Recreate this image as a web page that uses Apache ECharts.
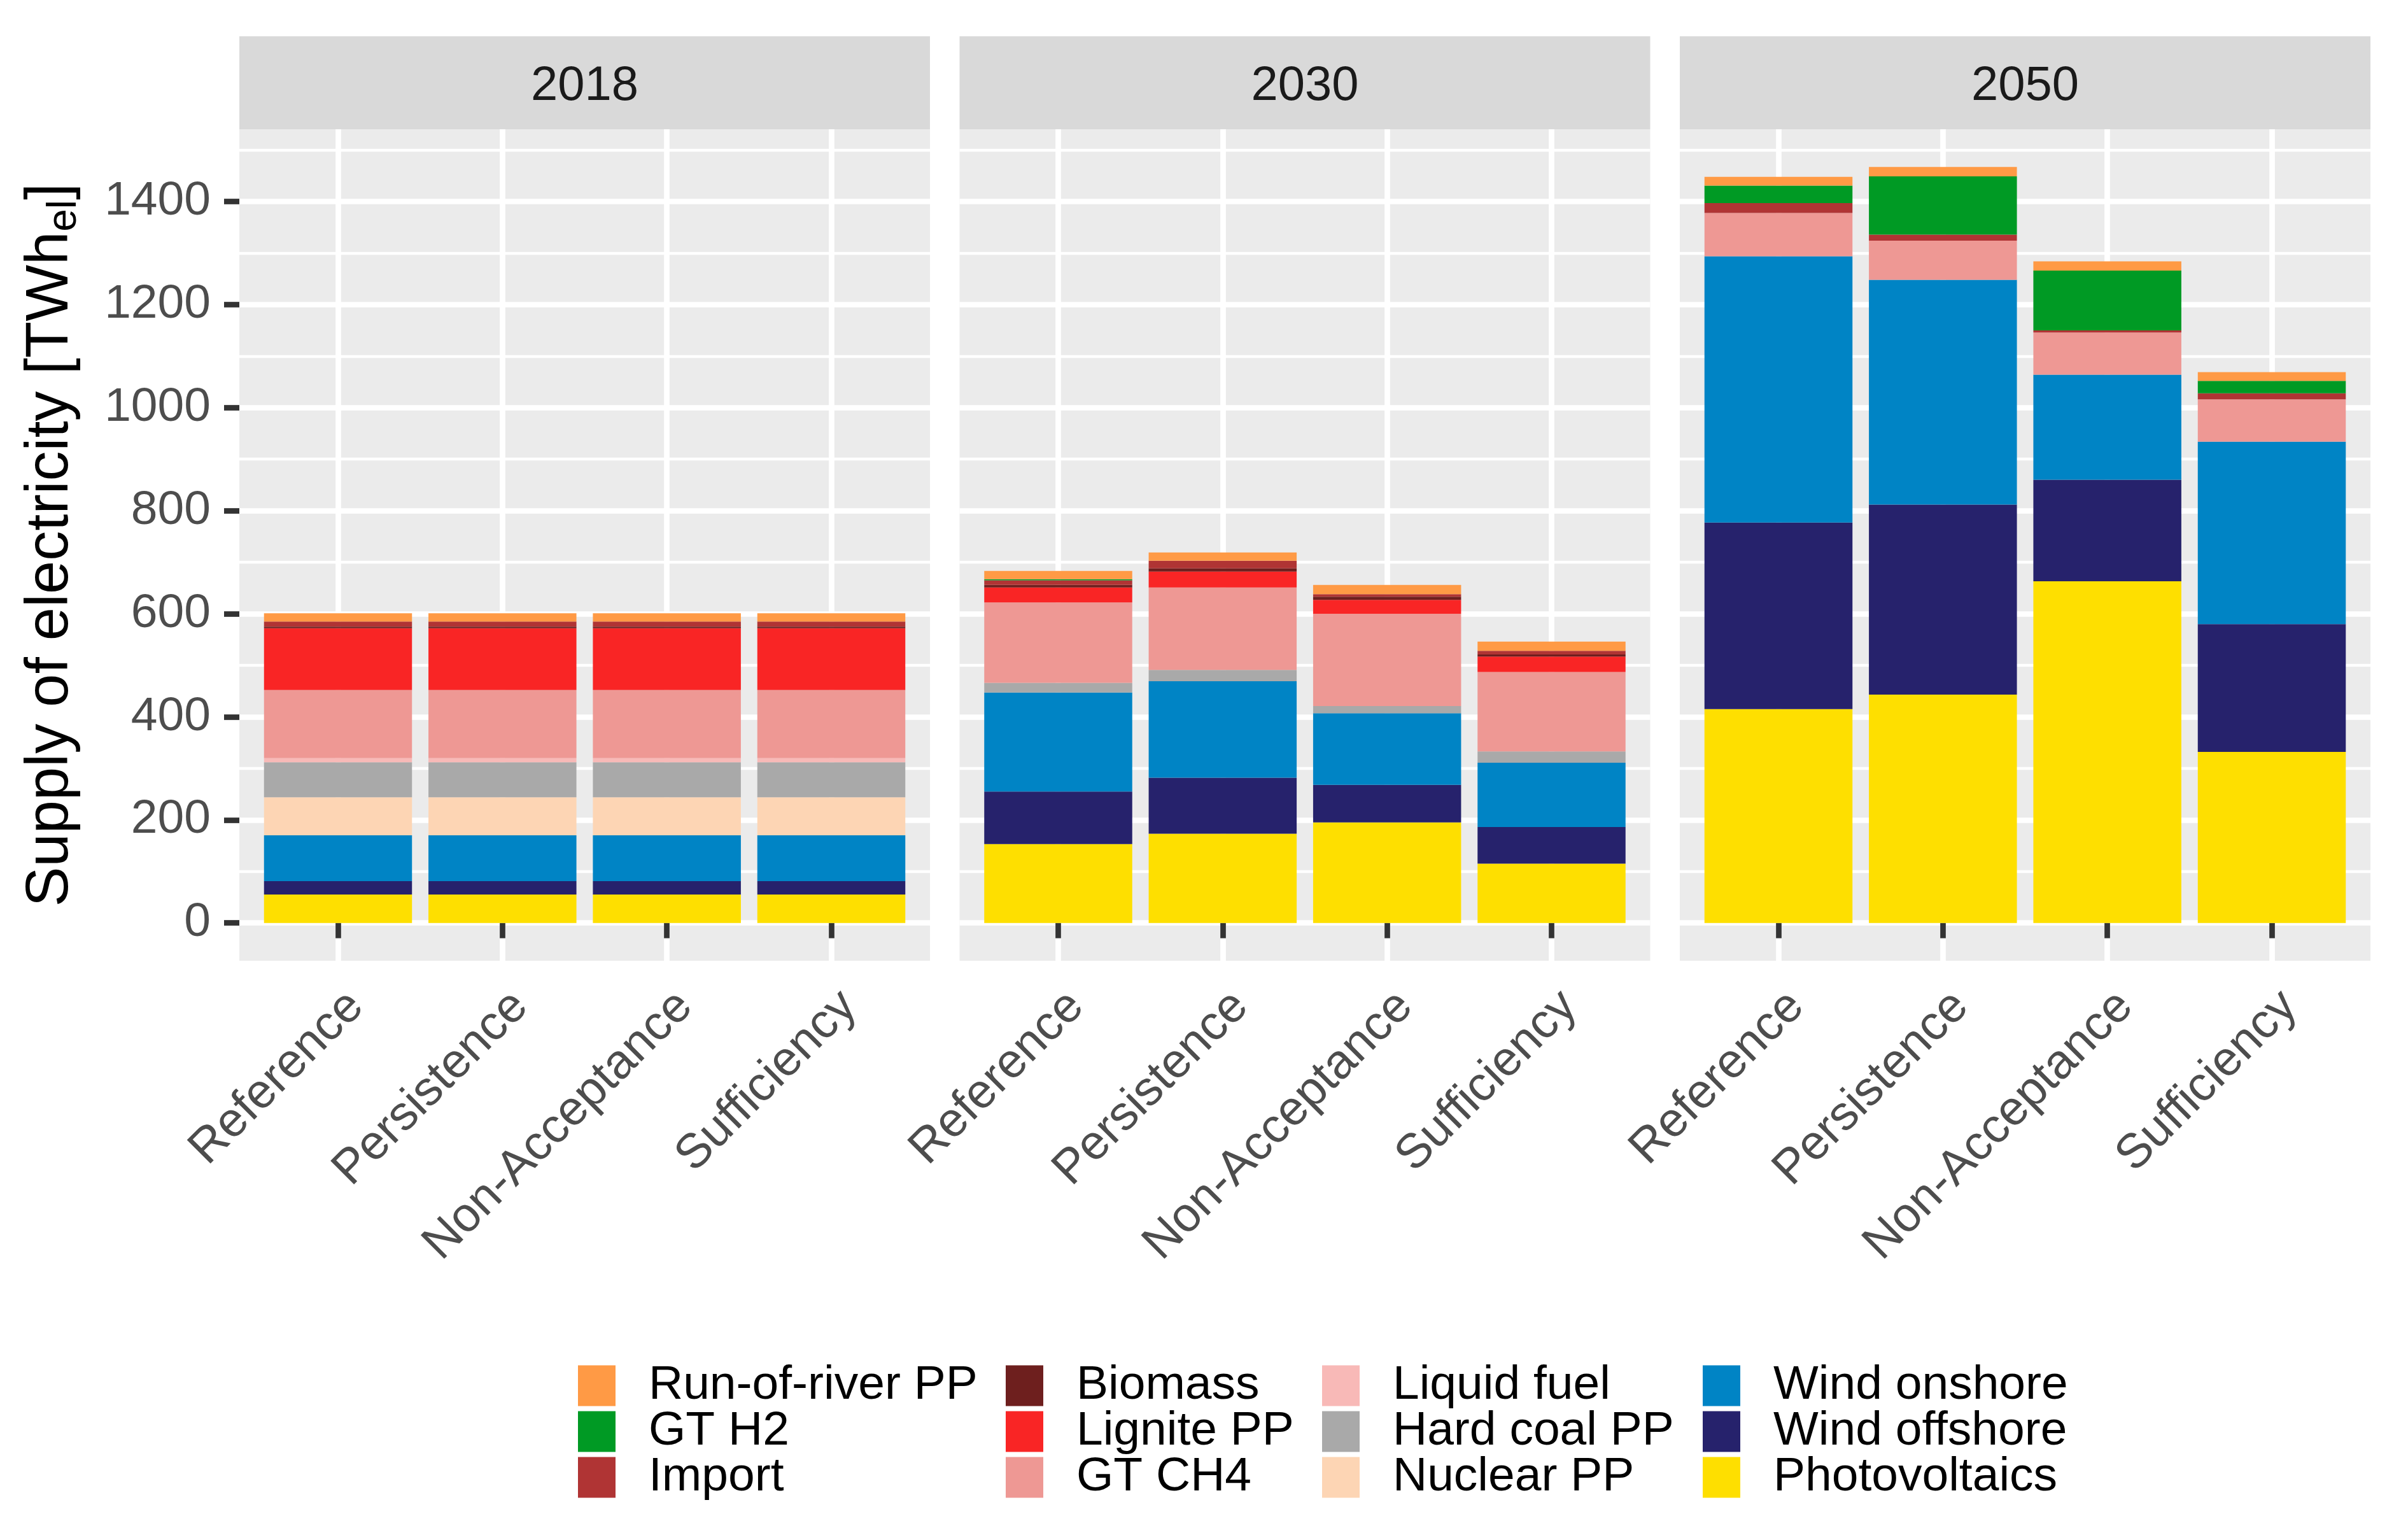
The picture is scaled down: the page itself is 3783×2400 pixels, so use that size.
<!DOCTYPE html>
<html><head><meta charset="utf-8">
<script src="https://cdn.jsdelivr.net/npm/echarts@6/dist/echarts.min.js"></script>
<style>html,body{margin:0;padding:0;background:#fff}#c{width:3783px;height:2400px}</style>
</head><body><div id="c"></div>
<script>
// ---------- data ----------
const years = ['2018', '2030', '2050'];
const scenarios = ['Reference', 'Persistence', 'Non-Acceptance', 'Sufficiency'];
// stacking order, bottom to top
const technologies = ['Photovoltaics', 'Wind offshore', 'Wind onshore', 'Nuclear PP', 'Hard coal PP',
  'Liquid fuel', 'GT CH4', 'Lignite PP', 'Biomass', 'Import', 'GT H2', 'Run-of-river PP'];
const techColors = ['#FEDF00', '#26226C', '#0084C5', '#FDD5B4', '#A9A9A9',
  '#F8B9B7', '#EE9894', '#F92525', '#6E1F1E', '#B03434', '#009A24', '#FF9A45'];
// values in TWh_el: 2018 x4 scenarios, 2030 x4, 2050 x4
const photovoltaics = [55, 55, 55, 55, 153, 173, 195, 115, 415, 443, 663, 332];
const windOffshore  = [26, 26, 26, 26, 102, 109, 73, 71, 362, 369, 197, 248];
const windOnshore   = [89, 89, 89, 89, 192, 187, 139, 125, 517, 436, 204, 354];
const nuclearPP     = [74, 74, 74, 74, 0, 0, 0, 0, 0, 0, 0, 0];
const hardCoalPP    = [68, 68, 68, 68, 19, 22, 14, 22, 0, 0, 0, 0];
const liquidFuel    = [8, 8, 8, 8, 0, 0, 0, 0, 0, 0, 0, 0];
const gtCH4         = [132, 132, 132, 132, 156, 160, 179, 154, 84, 76, 82, 82];
const lignitePP     = [120, 120, 120, 120, 29, 31, 27, 30, 0, 0, 0, 0];
const biomass       = [3, 3, 3, 3, 5, 6, 6, 4, 0, 0, 0, 0];
const importEl      = [10, 10, 10, 10, 9, 15, 5, 7, 19, 12, 4, 12];
const gtH2          = [0, 0, 0, 0, 2, 0, 0, 0, 34, 113, 116, 24];
const runOfRiver    = [16, 16, 16, 16, 16, 16, 18, 18, 17, 18, 18, 17];
const techValues = [photovoltaics, windOffshore, windOnshore, nuclearPP, hardCoalPP, liquidFuel,
  gtCH4, lignitePP, biomass, importEl, gtH2, runOfRiver];
const legendColumns = [
  ['Run-of-river PP', 'GT H2', 'Import'],
  ['Biomass', 'Lignite PP', 'GT CH4'],
  ['Liquid fuel', 'Hard coal PP', 'Nuclear PP'],
  ['Wind onshore', 'Wind offshore', 'Photovoltaics']
];
const yAxisTop = 1600, yTickStep = 200;

// ---------- layout ----------
const FONT = '"Liberation Sans", Arial, Helvetica, sans-serif';
const panelLeft = [376, 1507.5, 2639];
const panelW = 1085;
const stripTop = 57, panelTop = 203, panelBottom = 1509;
const legendLeft = [903, 1575, 2072, 2670];
const legendTop = 2134;
const majorW = 8.7, minorW = 4.35;

let maxTotal = 0;
for (let i = 0; i < 12; i++) {
  let s = 0; techValues.forEach(v => s += v[i]);
  maxTotal = Math.max(maxTotal, s);
}
const yMin = -0.05 * maxTotal;
const yMaxData = maxTotal * 1.05;
const pxPerUnit = (panelBottom - panelTop) / (yMaxData - yMin);
const gridTopScaled = panelBottom - (yAxisTop - yMin) * pxPerUnit;
const yZeroPx = panelBottom + yMin * pxPerUnit;
const inset = panelW * 0.1 / 4.2;
// shift of the y title so it is centred on the panel rather than on the scaled axis
const titleShift = ((panelTop + panelBottom) / 2 - (gridTopScaled + yZeroPx) / 2) * 2;

const grid = [], xAxis = [], yAxis = [], series = [], graphic = [];
years.forEach((yr, p) => {
  const L = panelLeft[p];
  // background panel
  grid.push({left: L, top: panelTop, width: panelW, height: panelBottom - panelTop,
    show: true, backgroundColor: '#EBEBEB', borderWidth: 0, containLabel: false, outerBoundsMode: 'none'});
  xAxis.push({gridIndex: 3 * p, type: 'value', min: 0, max: 1, show: false});
  yAxis.push({gridIndex: 3 * p, type: 'value', min: 0, max: 1, show: false});
  // horizontal grid lines + y axis
  grid.push({left: L, top: gridTopScaled, width: panelW, height: yZeroPx - gridTopScaled,
    show: false, containLabel: false, outerBoundsMode: 'none'});
  xAxis.push({gridIndex: 3 * p + 1, type: 'value', min: 0, max: 1, show: false});
  yAxis.push({
    gridIndex: 3 * p + 1, type: 'value', min: 0, max: yAxisTop, interval: yTickStep,
    axisLine: {show: false},
    axisTick: {show: p === 0, length: 24, lineStyle: {color: '#333333', width: majorW}},
    axisLabel: {show: p === 0, margin: 45, fontSize: 75, color: '#4D4D4D', fontFamily: FONT,
      showMaxLabel: false, formatter: v => String(v)},
    splitLine: {show: true, showMaxLine: false, lineStyle: {color: '#FFFFFF', width: majorW}},
    minorTick: {show: false, splitNumber: 2},
    minorSplitLine: {show: true, lineStyle: {color: '#FFFFFF', width: minorW}},
    name: p === 0 ? '{m|Supply of electricity [TWh}{s|el}{m|]}' : '',
    nameLocation: 'middle', nameRotate: 90, nameGap: 243,
    nameTextStyle: {padding: [0, titleShift, 0, 0], rich: {
      m: {fontSize: 94, fontFamily: FONT, color: '#000000', lineHeight: 106},
      s: {fontSize: 64, fontFamily: FONT, color: '#000000', lineHeight: 46, verticalAlign: 'bottom'}
    }}
  });
  // bars
  grid.push({left: L + inset, top: gridTopScaled, width: panelW - 2 * inset, height: panelBottom - gridTopScaled,
    show: false, containLabel: false, outerBoundsMode: 'none'});
  xAxis.push({
    gridIndex: 3 * p + 2, type: 'category', data: scenarios, boundaryGap: true,
    axisLine: {show: false},
    axisTick: {show: true, alignWithLabel: true, length: 24, lineStyle: {color: '#333333', width: majorW}},
    axisLabel: {show: true, interval: 0, rotate: 45, margin: 32, fontSize: 76, color: '#4D4D4D',
      fontFamily: FONT, lineHeight: 80, formatter: v => ' \n' + v},
    splitLine: {show: true, alignWithLabel: true, interval: 0, lineStyle: {color: '#FFFFFF', width: majorW}}
  });
  yAxis.push({gridIndex: 3 * p + 2, type: 'value', min: yMin, max: yAxisTop, show: false,
    splitLine: {show: false}});
  technologies.forEach((t, k) => {
    series.push({
      type: 'bar', name: t, xAxisIndex: 3 * p + 2, yAxisIndex: 3 * p + 2,
      stack: 'panel' + p, barWidth: '90%', z: 3,
      itemStyle: {color: techColors[k], borderWidth: 0},
      emphasis: {disabled: true},
      data: techValues[k].slice(4 * p, 4 * p + 4)
    });
  });
  // facet strip
  graphic.push({type: 'rect', z: 100, silent: true,
    shape: {x: L, y: stripTop, width: panelW, height: panelTop - stripTop},
    style: {fill: '#D9D9D9'}});
  graphic.push({type: 'text', z: 101, silent: true, x: L + panelW / 2, y: (stripTop + panelTop) / 2 + 6,
    style: {text: yr, fontSize: 76, fontFamily: FONT, fill: '#1A1A1A', align: 'center', verticalAlign: 'middle'}});
});

const legend = legendColumns.map((col, i) => ({
  orient: 'vertical', left: legendLeft[i], top: legendTop,
  itemWidth: 59, itemHeight: 64, itemGap: -3, icon: 'rect', selectedMode: false,
  data: col,
  textStyle: {fontSize: 75, fontFamily: FONT, color: '#000000', lineHeight: 64, padding: [0, 0, 0, 47]}
}));

const chart = echarts.init(document.getElementById('c'), null, {renderer: 'canvas'});
chart.setOption({
  animation: false,
  backgroundColor: '#FFFFFF',
  grid, xAxis, yAxis, series, legend, graphic,
  tooltip: {show: false}
});
</script></body></html>
